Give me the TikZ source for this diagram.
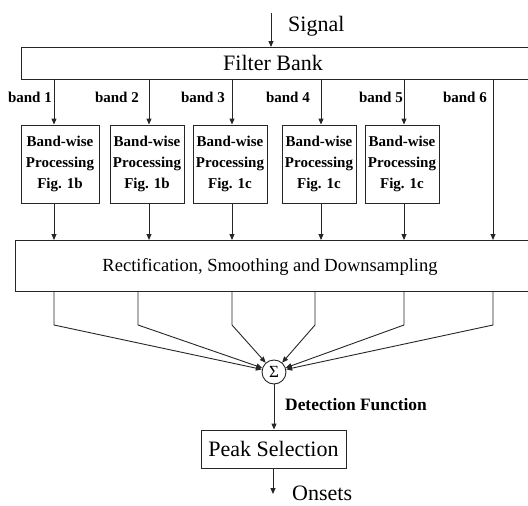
\documentclass[tikz,border=0pt]{standalone}
\usepackage{fontspec}
\setmainfont{Liberation Serif}
\usetikzlibrary{arrows.meta}
\begin{document}
\begin{tikzpicture}[x=1pt,y=-1pt,
  ln/.style={draw=black!85, line width=0.9pt},
  arr/.style={draw=black!85, line width=0.9pt, -{Triangle[length=6pt,width=5pt]}},
  big/.style={font=\fontsize{22}{26}\selectfont, inner sep=0pt},
  bw/.style={ln, align=center, font=\fontsize{15}{21}\selectfont\bfseries, inner sep=0pt, minimum height=78pt, minimum width=74pt},
  lbl/.style={font=\fontsize{15}{18}\selectfont\bfseries, inner sep=0pt, anchor=east},
]
\useasboundingbox (0,0) rectangle (528,506);

% input
\coordinate (in) at (271,13);
\node[ln, minimum width=530pt, minimum height=32pt, inner sep=0pt, anchor=north west] (fb) at (21,47) {};
\node[big] (fbl) at (273,63) {Filter Bank};
\draw[arr] (in) -- (in |- fb.north);
\node[big, anchor=base west] (sigl) at (288,31) {Signal};

% band x positions
\coordinate (x1) at (54,0);
\coordinate (x2) at (149,0);
\coordinate (x3) at (232,0);
\coordinate (x4) at (321,0);
\coordinate (x5) at (404,0);
\coordinate (x6) at (493,0);

% band labels
\node[lbl] (l1) at (52,97) {band 1};
\node[lbl] (l2) at (139,97) {band 2};
\node[lbl] (l3) at (225,97) {band 3};
\node[lbl] (l4) at (310,97) {band 4};
\node[lbl] (l5) at (403,97) {band 5};
\node[lbl] (l6) at (487,97) {band 6};

% band-wise boxes
\node[bw, minimum width=78pt] (bw1) at (60,164) {Band-wise\\Processing\\Fig. 1b};
\node[bw] (bw2) at (147,164) {Band-wise\\Processing\\Fig. 1b};
\node[bw] (bw3) at (230,164) {Band-wise\\Processing\\Fig. 1c};
\node[bw] (bw4) at (319,164) {Band-wise\\Processing\\Fig. 1c};
\node[bw] (bw5) at (402,164) {Band-wise\\Processing\\Fig. 1c};

% rectification box
\node[ln, minimum width=530pt, minimum height=51pt, inner sep=0pt, anchor=north west] (rs) at (15,240) {};
\node[font=\fontsize{18.5}{22}\selectfont, inner sep=0pt] (rsl) at (270,267) {Rectification, Smoothing and Downsampling};

% arrows filter bank -> boxes -> rectification
\foreach \i in {1,...,5} {
  \draw[arr] (fb.south -| x\i) -- (bw\i.north -| x\i);
  \draw[arr] (bw\i.south -| x\i) -- (rs.north -| x\i);
}
\draw[arr] (fb.south -| x6) -- (rs.north -| x6);

% summation
\node[ln, circle, minimum size=24pt, inner sep=0pt, font=\fontsize{17}{17}\selectfont] (sum) at (274,372) {Σ};

\coordinate (k1) at (54,325);
\coordinate (k2) at (138,325);
\coordinate (k3) at (232,325);
\coordinate (k4) at (315,325);
\coordinate (k5) at (404,325);
\coordinate (k6) at (493,325);
\foreach \i in {1,...,6} {
  \draw[arr] (rs.south -| k\i) -- (k\i) -- (sum);
}

% peak selection
\node[ln, minimum width=145pt, minimum height=38pt, big] (peak) at (273.5,449) {Peak Selection};
\draw[arr] (sum.south) -- (sum.south |- peak.north);
\node[font=\fontsize{17.4}{20}\selectfont\bfseries, inner sep=0pt, anchor=west] (dfl) at (285,405) {Detection Function};

\coordinate (out) at (273,494);
\draw[arr] (peak.south -| out) -- (out);
\node[big, anchor=base west] (onl) at (292,500) {Onsets};
\end{tikzpicture}
\end{document}
